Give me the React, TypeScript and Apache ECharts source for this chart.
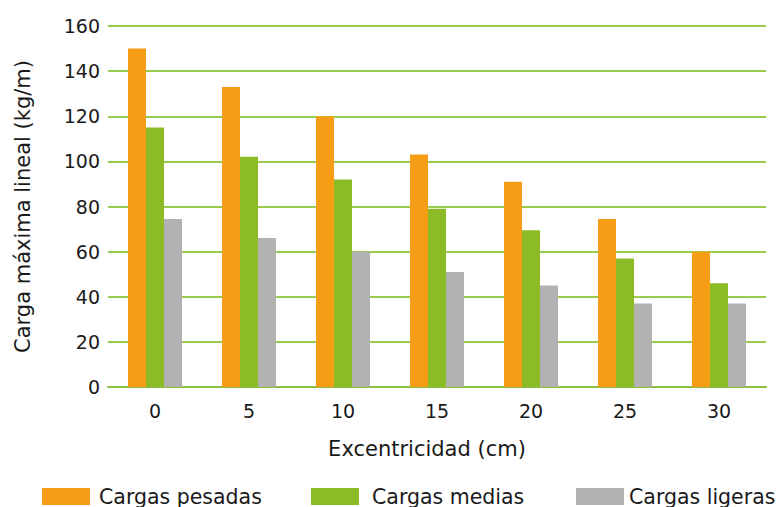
import React, { useEffect, useRef } from "react";
import * as echarts from "echarts";

const categories = ["0", "5", "10", "15", "20", "25", "30"];
const pesadas = [150, 133, 120, 103, 91, 74.5, 60];
const medias = [115, 102, 92, 79, 69.5, 57, 46];
const ligeras = [74.5, 66, 60, 51, 45, 37, 37];
const seriesNames = ["Cargas pesadas", "Cargas medias", "Cargas ligeras"];
const colors = ["#F59E15", "#8BBC26", "#B2B2B2"];

const FONT = "'DejaVu Sans', sans-serif";

export default function App() {
  const ref = useRef<HTMLDivElement>(null);
  useEffect(() => {
    if (!ref.current) return;
    const chart = echarts.init(ref.current, null, { renderer: "svg" });
    const legendLefts = [42, 311, 576];
    const legendPad = [4, 8, 0];
    chart.setOption({
      animation: false,
      grid: { left: 108, right: 17, top: 26, bottom: 120 },
      legend: seriesNames.map((n, i) => ({
        data: [n],
        left: legendLefts[i],
        top: 486,
        itemWidth: 48,
        itemHeight: 17,
        itemGap: 0,
        icon: "rect",
        textStyle: { fontFamily: FONT, fontSize: 20.5, color: "#1a1a1a", padding: [0, 0, 0, legendPad[i]] },
        padding: 0,
      })),
      xAxis: {
        type: "category",
        data: categories,
        name: "Excentricidad (cm)",
        nameLocation: "middle",
        nameGap: 51,
        nameTextStyle: { fontFamily: FONT, fontSize: 21, color: "#1a1a1a", padding: [0, 20, 0, 0] },
        axisLine: { lineStyle: { color: "#8DC040", width: 2 } },
        axisTick: { show: false },
        axisLabel: { fontFamily: FONT, fontSize: 19, color: "#1a1a1a", margin: 14 },
      },
      yAxis: {
        type: "value",
        min: 0,
        max: 160,
        interval: 20,
        name: "Carga máxima lineal (kg/m)",
        nameLocation: "middle",
        nameGap: 75,
        nameTextStyle: { fontFamily: FONT, fontSize: 21, color: "#1a1a1a" },
        axisLine: { show: false },
        axisTick: { show: false },
        axisLabel: { fontFamily: FONT, fontSize: 19, color: "#1a1a1a", margin: 8 },
        splitLine: { lineStyle: { color: "#9ACD4F", width: 2 } },
      },
      series: [pesadas, medias, ligeras].map((d, i) => ({
        type: "bar",
        name: seriesNames[i],
        data: d,
        barWidth: 18,
        barGap: "0%",
        itemStyle: { color: colors[i] },
      })),
    });
    return () => chart.dispose();
  }, []);
  return <div ref={ref} style={{ width: 783, height: 507, position: "absolute", left: 0, top: 0 }} />;
}
